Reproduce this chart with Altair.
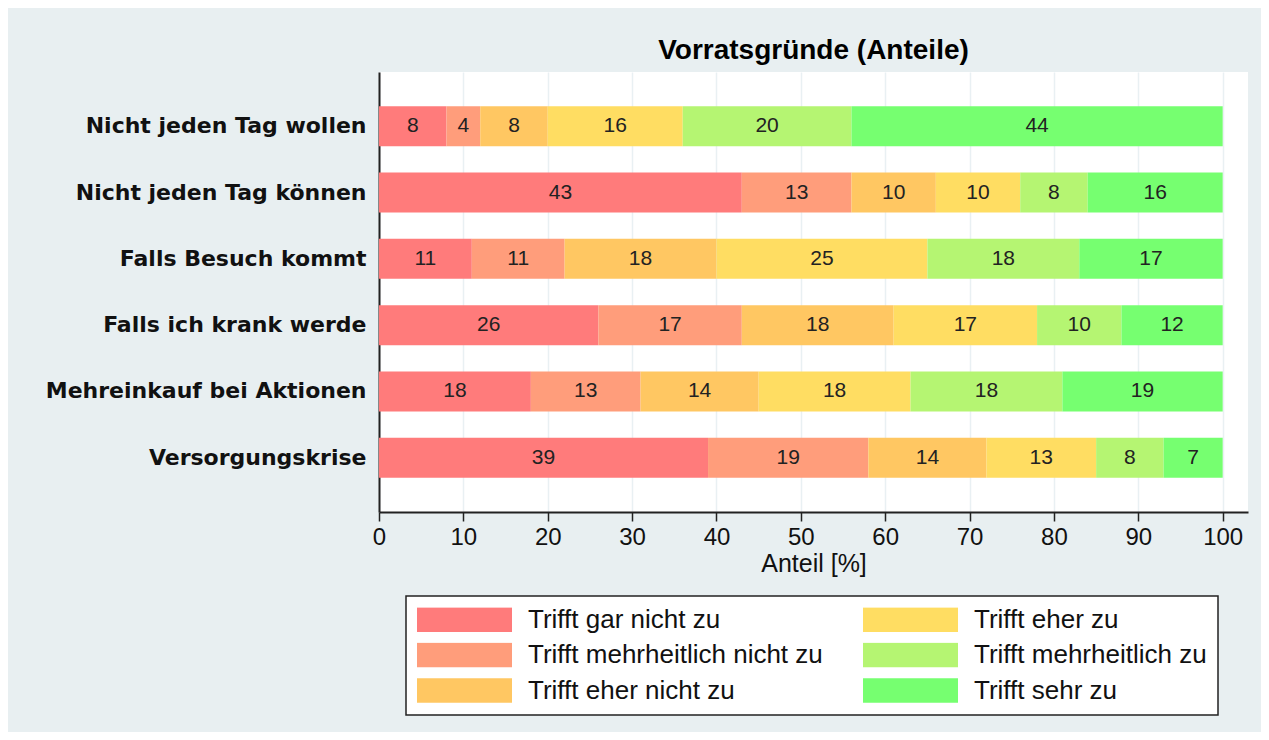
import altair as alt
import pandas as pd

categories = ["Nicht jeden Tag wollen", "Nicht jeden Tag können", "Falls Besuch kommt",
              "Falls ich krank werde", "Mehreinkauf bei Aktionen", "Versorgungskrise"]
levels = ["Trifft gar nicht zu", "Trifft mehrheitlich nicht zu", "Trifft eher nicht zu",
          "Trifft eher zu", "Trifft mehrheitlich zu", "Trifft sehr zu"]
colors = ["#ff7b7b", "#ff9d7b", "#ffc762", "#ffdd62", "#b5f572", "#76ff70"]

gar_nicht = [8, 43, 11, 26, 18, 39]
mehr_nicht = [4, 13, 11, 17, 13, 19]
eher_nicht = [8, 10, 18, 18, 14, 14]
eher_zu = [16, 10, 25, 17, 18, 13]
mehr_zu = [20, 8, 18, 10, 18, 8]
sehr_zu = [44, 16, 17, 12, 19, 7]

x_ticks = [0, 10, 20, 30, 40, 50, 60, 70, 80, 90, 100]

series = [gar_nicht, mehr_nicht, eher_nicht, eher_zu, mehr_zu, sehr_zu]
rows = []
for ci, cat in enumerate(categories):
    start = 0
    for li, lev in enumerate(levels):
        v = series[li][ci]
        rows.append({"cat": cat, "level": lev, "order": li, "value": v,
                     "start": start, "end": start + v, "mid": start + v / 2})
        start += v
df = pd.DataFrame(rows)

y_enc = alt.Y("cat:N", sort=categories,
              scale=alt.Scale(paddingInner=0.397, paddingOuter=0.517),
              axis=alt.Axis(title=None, labelFont="DejaVu Sans", labelFontWeight="bold",
                            labelFontSize=22, labelColor="#111", labelPadding=13,
                            ticks=False, domainColor="#222", domainWidth=2, grid=False,
                            labelLimit=400))
x_scale = alt.Scale(domain=[0, 103], nice=False, zero=True)

bars = alt.Chart(df).mark_bar(size=40).encode(
    x=alt.X("start:Q", scale=x_scale,
            axis=alt.Axis(title="Anteil [%]", values=x_ticks, labelFont="Liberation Sans",
                          labelFontSize=24, labelColor="#111", titleFont="Liberation Sans",
                          titleFontSize=25, titleFontWeight="normal", titleColor="#111",
                          titlePadding=2, tickColor="#222", tickSize=9, tickWidth=1.5,
                          domainColor="#222", domainWidth=2, labelPadding=4,
                          grid=True, gridColor="#e9f0f3", gridWidth=1.5, labelFlush=False)),
    x2="end:Q",
    y=y_enc,
    color=alt.Color("level:N", sort=levels,
                    scale=alt.Scale(domain=levels, range=colors),
                    legend=alt.Legend(title=None, orient="none", legendX=27, legendY=524,
                                      columns=2, values=levels,
                                      symbolType="M-1,-0.26H1V0.26H-1Z", symbolSize=9025,
                                      symbolStrokeWidth=0, symbolOpacity=1, clipHeight=25,
                                      labelFont="Liberation Sans", labelFontSize=26,
                                      labelColor="#111", labelOffset=16, labelLimit=400,
                                      columnPadding=40, rowPadding=8.5, padding=11,
                                      fillColor="white", strokeColor="#222")),
)

labels = alt.Chart(df).mark_text(font="Liberation Sans", fontSize=21, color="#222",
                                  align="center", baseline="middle").encode(
    x=alt.X("mid:Q", scale=x_scale),
    y=alt.Y("cat:N", sort=categories),
    text=alt.Text("value:Q", format="d"),
)

chart = (bars + labels).properties(
    width=869, height=440,
    title=alt.Title("Vorratsgründe (Anteile)", font="Liberation Sans", fontSize=28,
                    fontWeight="bold", color="#000", anchor="middle", offset=7),
    padding={"left": 371, "top": 64, "right": 13, "bottom": 220},
    autosize=alt.AutoSizeParams(type="none"),
).configure(background="#e8eff1").configure_view(fill="white", stroke=None
).configure_legend(strokeWidth=1.5)

chart.save("out.html", embed_options={"renderer": "svg", "actions": False})
